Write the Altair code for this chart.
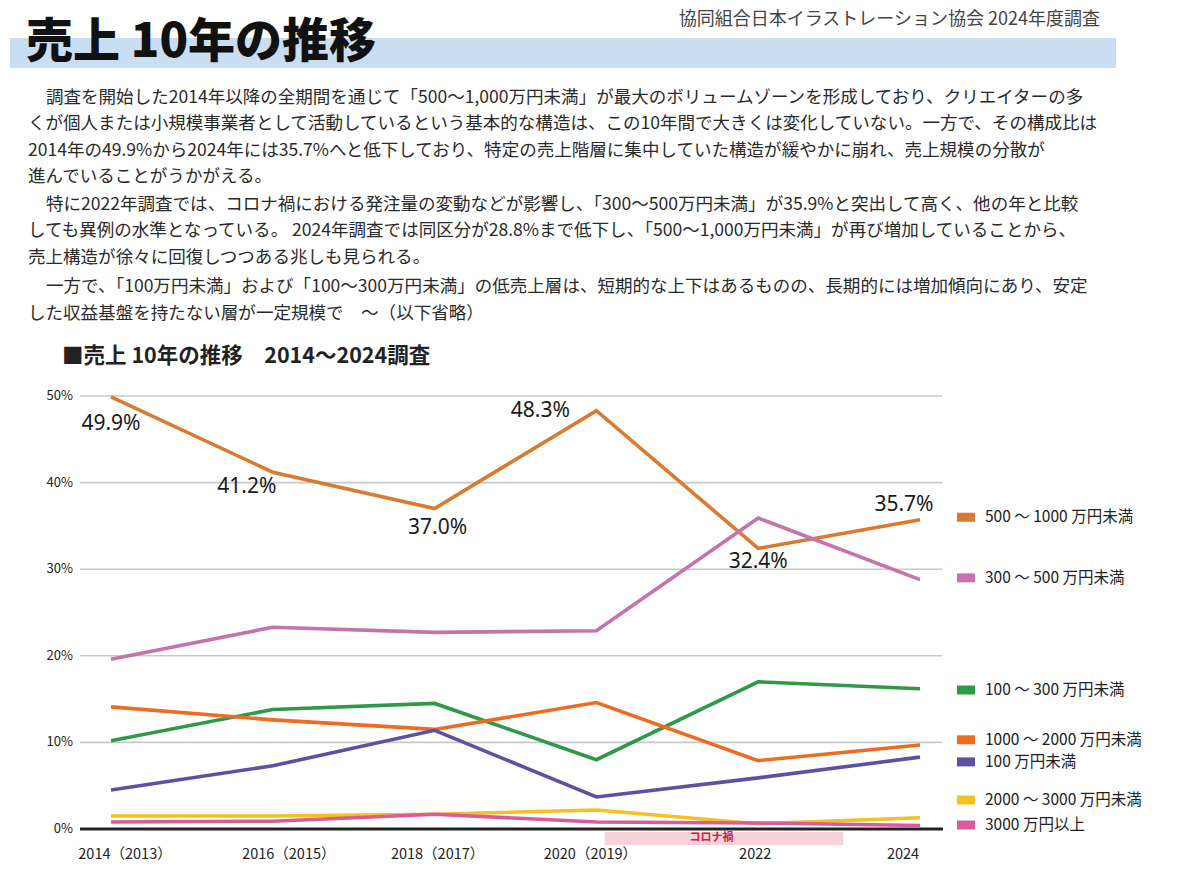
import altair as alt
import pandas as pd

# ---------------- data ----------------
years = [2014, 2016, 2018, 2020, 2022, 2024]
year_labels = ["2014（2013）", "2016（2015）", "2018（2017）", "2020（2019）", "2022", "2024"]

series_names = [
    "500 〜 1000 万円未満",
    "300 〜 500 万円未満",
    "100 〜 300 万円未満",
    "1000 〜 2000 万円未満",
    "100 万円未満",
    "2000 〜 3000 万円未満",
    "3000 万円以上",
]
s500_1000 = [49.9, 41.2, 37.0, 48.3, 32.4, 35.7]
s300_500 = [19.6, 23.3, 22.7, 22.9, 35.9, 28.8]
s100_300 = [10.2, 13.8, 14.5, 8.0, 17.0, 16.2]
s1000_2000 = [14.1, 12.6, 11.5, 14.6, 7.9, 9.7]
s_under100 = [4.5, 7.3, 11.4, 3.7, 5.9, 8.3]
s2000_3000 = [1.5, 1.5, 1.7, 2.2, 0.6, 1.3]
s3000_over = [0.8, 0.9, 1.7, 0.8, 0.7, 0.4]
series_values = [s500_1000, s300_500, s100_300, s1000_2000, s_under100, s2000_3000, s3000_over]

series_colors = ["#D97A2F", "#C473AC", "#2E9A48", "#EE6B22", "#5C51A3", "#F2C220", "#DA5A9B"]

y_ticks = [0, 10, 20, 30, 40, 50]
y_tick_labels = ["0%", "10%", "20%", "30%", "40%", "50%"]

# legend anchor values (in %) where each legend entry sits
legend_anchor = [36.0, 29.0, 16.05, 10.3, 7.75, 3.35, 0.46]

title_text = "売上 10年の推移"
source_text = "協同組合日本イラストレーション協会 2024年度調査"
chart_title = "■売上 10年の推移　2014〜2024調査"
body_lines = [
    "調査を開始した2014年以降の全期間を通じて「500〜1,000万円未満」が最大のボリュームゾーンを形成しており、クリエイターの多",
    "くが個人または小規模事業者として活動しているという基本的な構造は、この10年間で大きくは変化していない。一方で、その構成比は",
    "2014年の49.9%から2024年には35.7%へと低下しており、特定の売上階層に集中していた構造が緩やかに崩れ、売上規模の分散が",
    "進んでいることがうかがえる。",
    "特に2022年調査では、コロナ禍における発注量の変動などが影響し、「300〜500万円未満」が35.9%と突出して高く、他の年と比較",
    "しても異例の水準となっている。 2024年調査では同区分が28.8%まで低下し、「500〜1,000万円未満」が再び増加していることから、",
    "売上構造が徐々に回復しつつある兆しも見られる。",
    "一方で、「100万円未満」および「100〜300万円未満」の低売上層は、短期的な上下はあるものの、長期的には増加傾向にあり、安定",
    "した収益基盤を持たない層が一定規模で　～（以下省略）",
]
body_indent = [True, False, False, False, True, False, False, True, False]
corona_label = "コロナ禍"
corona_start, corona_end = 2020.1, 2023.05

# ---------------- layout ----------------
FONT = "Noto Sans CJK JP"
xscale = alt.Scale(domain=[2014, 2024], range=[111, 920], zero=False, nice=False)
yscale = alt.Scale(domain=[0, 50], range=[829, 396], zero=False, nice=False)
cscale = alt.Scale(domain=series_names, range=series_colors)

one = pd.DataFrame({"a": [0]})
layers = []

# header band
layers.append(alt.Chart(one).mark_rect(color="#C9DDF3").encode(
    x=alt.value(10), x2=alt.value(1116), y=alt.value(38), y2=alt.value(68)))
layers.append(alt.Chart(one).mark_text(
    text=title_text, font=FONT, fontSize=47, fontWeight=900, color="#111111",
    align="left", baseline="alphabetic").encode(x=alt.value(26), y=alt.value(57)))
layers.append(alt.Chart(one).mark_text(
    text=source_text, font=FONT, fontSize=18, color="#444444",
    align="right", baseline="middle").encode(x=alt.value(1100), y=alt.value(20)))

body_y = [98, 124, 151, 177, 205, 231, 258, 287, 314]
for line, yy, ind in zip(body_lines, body_y, body_indent):
    layers.append(alt.Chart(one).mark_text(
        text=line, font=FONT, fontSize=17.55, color="#2A2A2A",
        align="left", baseline="middle").encode(x=alt.value(46 if ind else 28), y=alt.value(yy)))

layers.append(alt.Chart(one).mark_text(
    text=chart_title, font=FONT, fontSize=21.5, fontWeight="bold", color="#222222",
    align="left", baseline="middle").encode(x=alt.value(62), y=alt.value(357)))

# gridlines
ticks_df = pd.DataFrame({"v": y_ticks, "label": y_tick_labels})
layers.append(alt.Chart(ticks_df[ticks_df.v > 0]).mark_rule(color="#C8C8CC", strokeWidth=1.6).encode(
    y=alt.Y("v:Q", scale=yscale, axis=None), x=alt.value(80), x2=alt.value(942)))
layers.append(alt.Chart(ticks_df[ticks_df.v == 0]).mark_rule(color="#222222", strokeWidth=3).encode(
    y=alt.Y("v:Q", scale=yscale, axis=None), x=alt.value(80), x2=alt.value(943)))
layers.append(alt.Chart(ticks_df).mark_text(
    font=FONT, fontSize=13, color="#222222", align="right", baseline="middle").encode(
    y=alt.Y("v:Q", scale=yscale, axis=None), x=alt.value(73), text="label:N"))

# corona band
corona_df = pd.DataFrame({"s": [corona_start], "e": [corona_end], "t": [corona_label]})
layers.append(alt.Chart(corona_df).mark_rect(color="#F8D3DB").encode(
    x=alt.X("s:Q", scale=xscale, axis=None), x2="e:Q", y=alt.value(832), y2=alt.value(845)))
layers.append(alt.Chart(corona_df).mark_text(
    font=FONT, fontSize=11, fontWeight="bold", color="#D0203C", baseline="middle", dx=107).encode(
    x=alt.X("s:Q", scale=xscale, axis=None), y=alt.value(838), text="t:N"))

# lines
rows = []
for name, vals in zip(series_names, series_values):
    for yr, v in zip(years, vals):
        rows.append({"series": name, "year": yr, "value": v})
lines_df = pd.DataFrame(rows)
layers.append(alt.Chart(lines_df).mark_line(strokeWidth=3.6).encode(
    x=alt.X("year:Q", scale=xscale, axis=None),
    y=alt.Y("value:Q", scale=yscale, axis=None),
    color=alt.Color("series:N", scale=cscale, legend=None),
    order=alt.Order("year:Q")))

# x labels
xl_dx = [14, 16, 3, -6, -3, -17]
for yr, lab, dx in zip(years, year_labels, xl_dx):
    layers.append(alt.Chart(pd.DataFrame({"year": [yr], "t": [lab]})).mark_text(
        font=FONT, fontSize=14.5, color="#222222", baseline="middle", dx=dx).encode(
        x=alt.X("year:Q", scale=xscale, axis=None), y=alt.value(855), text="t:N"))

# value labels for 500-1000
lab_off = [(0, 27), (-26, 15), (3, 19), (-56, 0), (0, 14), (-16, -15)]
for yr, v, (dx, dy) in zip(years, s500_1000, lab_off):
    layers.append(alt.Chart(pd.DataFrame({"year": [yr], "value": [v], "t": [f"{v:.1f}%"]})).mark_text(
        font="Noto Sans", fontSize=21, color="#1A1A1A", baseline="middle", dx=dx, dy=dy).encode(
        x=alt.X("year:Q", scale=xscale, axis=None),
        y=alt.Y("value:Q", scale=yscale, axis=None), text="t:N"))

# legend
leg_df = pd.DataFrame({"series": series_names, "pos": legend_anchor})
layers.append(alt.Chart(leg_df).mark_tick(size=18, thickness=9, opacity=1).encode(
    x=alt.value(966), y=alt.Y("pos:Q", scale=yscale, axis=None),
    color=alt.Color("series:N", scale=cscale, legend=None)))
layers.append(alt.Chart(leg_df).mark_text(
    font=FONT, fontSize=15.5, color="#222222", align="left", baseline="middle").encode(
    x=alt.value(985), y=alt.Y("pos:Q", scale=yscale, axis=None), text="series:N"))

chart = alt.layer(*layers).properties(
    width=1200, height=880,
    autosize=alt.AutoSizeParams(type="none"),
    padding=0,
    background="white",
).configure_view(stroke=None)

chart.save("out.html", embed_options={"renderer": "svg", "actions": False})
